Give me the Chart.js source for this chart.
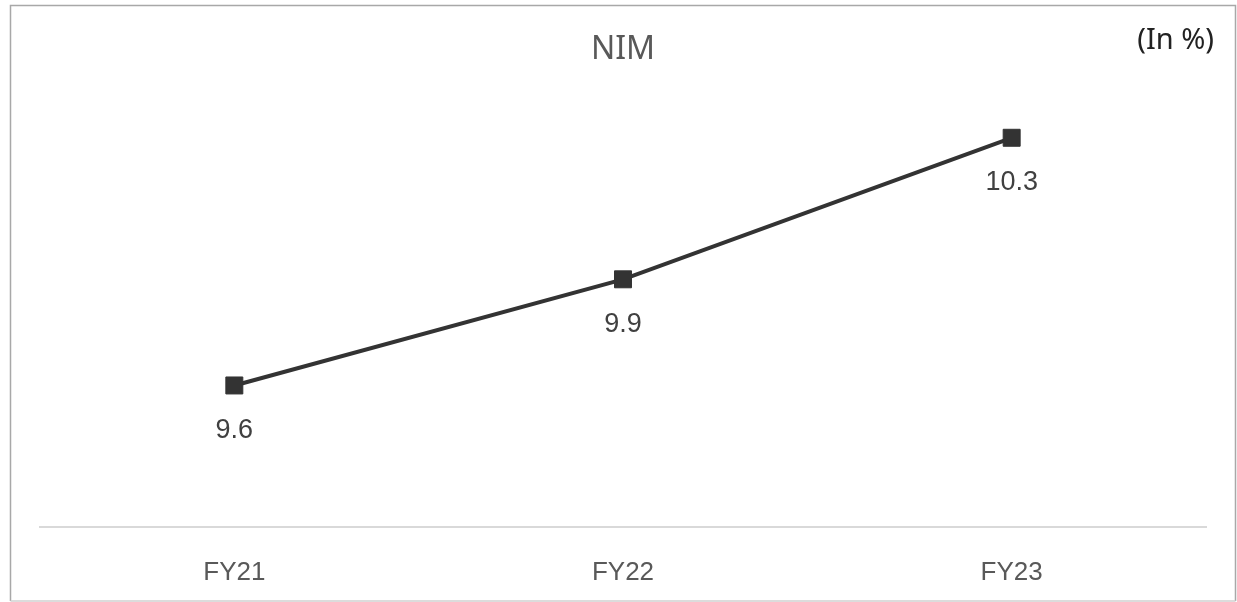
<!DOCTYPE html>
<html>
<head>
<meta charset="utf-8">
<script src="https://cdn.jsdelivr.net/npm/chart.js@4.4.0/dist/chart.umd.min.js"></script>
<style>
html,body{margin:0;padding:0;background:#fff;}
#wrap{width:1237px;height:602px;position:relative;}
</style>
</head>
<body>
<div id="wrap"><canvas id="c" width="1237" height="602"></canvas></div>
<script>
const categories = ["FY21", "FY22", "FY23"];
const nimValues = [9.6, 9.9, 10.3];
const valueLabels = ["9.6", "9.9", "10.3"];
const chartTitle = "NIM";
const unitNote = "(In %)";

const decor = {
  id: 'decor',
  beforeDraw(chart) {
    const ctx = chart.ctx;
    ctx.save();
    ctx.fillStyle = '#fff';
    ctx.fillRect(0, 0, chart.width, chart.height);
    ctx.lineWidth = 1.5;
    ctx.strokeStyle = '#a8a8a8';
    ctx.beginPath();
    ctx.moveTo(10.5, 601);
    ctx.lineTo(10.5, 5.5);
    ctx.lineTo(1235.5, 5.5);
    ctx.lineTo(1235.5, 601);
    ctx.stroke();
    ctx.strokeStyle = '#d0d0d0';
    ctx.beginPath();
    ctx.moveTo(10.5, 601);
    ctx.lineTo(1235.5, 601);
    ctx.stroke();
    ctx.restore();
  },
  afterDraw(chart) {
    const ctx = chart.ctx;
    ctx.save();
    ctx.textAlign = 'center';
    ctx.textBaseline = 'middle';
    ctx.fillStyle = '#595959';
    ctx.font = '32px "Noto Sans"';
    ctx.fillText(chartTitle, 623, 50);
    ctx.textAlign = 'right';
    ctx.fillStyle = '#222';
    ctx.font = '29px "Noto Sans"';
    ctx.fillText(unitNote, 1214, 41);
    const meta = chart.getDatasetMeta(0);
    ctx.textAlign = 'center';
    ctx.fillStyle = '#404040';
    ctx.font = '27px "Liberation Sans"';
    meta.data.forEach((pt, i) => {
      ctx.fillText(valueLabels[i], pt.x, pt.y + 45);
    });
    ctx.restore();
  }
};

new Chart(document.getElementById('c'), {
  type: 'line',
  data: {
    labels: categories,
    datasets: [{
      data: nimValues,
      borderColor: '#333333',
      borderWidth: 4,
      pointStyle: 'rect',
      pointRadius: 12,
      pointHoverRadius: 12,
      pointBackgroundColor: '#333333',
      pointBorderColor: '#333333',
      pointBorderWidth: 1,
      tension: 0
    }]
  },
  options: {
    responsive: false,
    animation: false,
    devicePixelRatio: 1,
    layout: { padding: { left: 40, right: 31, top: 67, bottom: 0 } },
    plugins: { legend: { display: false }, tooltip: { enabled: false }, title: { display: false } },
    scales: {
      x: {
        offset: true,
        grid: { display: false, drawTicks: false },
        border: { display: true, color: '#d9d9d9', width: 2 },
        ticks: { color: '#595959', font: { family: 'Liberation Sans', size: 26 }, padding: 30 },
        afterFit: (scale) => { scale.height = 75; }
      },
      y: {
        display: false,
        min: 9.2,
        max: 10.5
      }
    }
  },
  plugins: [decor]
});
</script>
</body>
</html>
